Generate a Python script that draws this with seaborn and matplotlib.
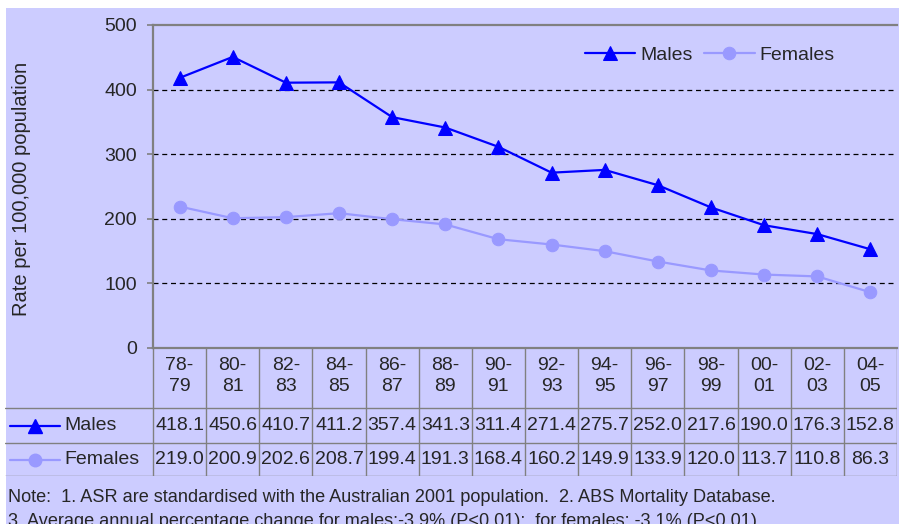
import numpy as np
import pandas as pd
import matplotlib.pyplot as plt
import seaborn as sns
from matplotlib.patches import Rectangle

# datos
periods = ['78-\n79', '80-\n81', '82-\n83', '84-\n85', '86-\n87', '88-\n89', '90-\n91',
           '92-\n93', '94-\n95', '96-\n97', '98-\n99', '00-\n01', '02-\n03', '04-\n05']
males = [418.1, 450.6, 410.7, 411.2, 357.4, 341.3, 311.4, 271.4, 275.7, 252.0, 217.6, 190.0, 176.3, 152.8]
females = [219.0, 200.9, 202.6, 208.7, 199.4, 191.3, 168.4, 160.2, 149.9, 133.9, 120.0, 113.7, 110.8, 86.3]
yticks = [0, 100, 200, 300, 400, 500]
note1 = 'Note:  1. ASR are standardised with the Australian 2001 population.  2. ABS Mortality Database.'
note2 = '3. Average annual percentage change for males:-3.9% (P<0.01);  for females: -3.1% (P<0.01)'

bg = '#CCCCFF'
c_m = '#0000FF'
c_f = '#9999FF'
grey = '#808080'

sns.set_style('white')
plt.rcParams['font.family'] = ['Liberation Sans', 'DejaVu Sans']

W, H = 899, 524
fig = plt.figure(figsize=(W / 100, H / 100), dpi=100, facecolor='white')
fig.patches.append(Rectangle((6 / W, 0), 1 - 6 / W, 1 - 8 / H, transform=fig.transFigure,
                             facecolor=bg, edgecolor='none', zorder=-10))

# grafico principal
ax = fig.add_axes([153 / W, 1 - 348 / H, 744 / W, 323 / H])
ax.set_facecolor(bg)
x = np.arange(len(periods))
df = pd.DataFrame({'x': x, 'Males': males, 'Females': females})
sns.lineplot(data=df, x='x', y='Males', ax=ax, color=c_m, marker='^', markersize=10,
             markeredgecolor=c_m, linewidth=1.6, label='Males')
sns.lineplot(data=df, x='x', y='Females', ax=ax, color=c_f, marker='o', markersize=9,
             markeredgecolor=c_f, linewidth=1.6, label='Females')
for v in yticks[1:-1]:
    ax.axhline(v, color='black', linestyle=(0, (4, 3)), linewidth=0.9, zorder=0.5)
ax.set_xlim(-0.5, len(periods) - 0.5)
ax.set_ylim(0, 500)
ax.set_yticks(yticks)
ax.set_xticks([])
ax.set_xlabel('')
ax.set_ylabel('')
ax.tick_params(axis='y', labelsize=14, length=4.5, width=1.2, color=grey, pad=7, left=True)
for s in ['left', 'bottom', 'top']:
    ax.spines[s].set_color(grey)
    ax.spines[s].set_linewidth(1.6)
ax.spines['right'].set_visible(False)
ax.legend(loc='center', bbox_to_anchor=(0.748, 0.907), ncol=2, frameon=False, fontsize=14,
          handlelength=2.6, handletextpad=0.25, columnspacing=0.6, borderpad=0)
fig.text(22 / W, 1 - 189 / H, 'Rate per 100,000 population', rotation=90,
         ha='center', va='center', fontsize=14.5)

# tabla de datos
colw = 744 / len(periods)
tab = fig.add_axes([5 / W, 1 - 476 / H, 892 / W, 128 / H])
xmin = -0.5 - 148 / colw
tab.set_xlim(xmin, len(periods) - 0.5)
tab.set_ylim(128, 0)
tab.axis('off')
for k in range(len(periods) + 1):
    tab.plot([k - 0.5, k - 0.5], [0, 128], color=grey, linewidth=1)
for yy in [60, 95, 127.5]:
    tab.plot([xmin, len(periods) - 0.5], [yy, yy], color=grey, linewidth=1)
for i, p in enumerate(periods):
    tab.text(i, 28, p, ha='center', va='center', fontsize=14, linespacing=1.35)
    tab.text(i, 78, f'{males[i]:.1f}', ha='center', va='center', fontsize=14)
    tab.text(i, 112, f'{females[i]:.1f}', ha='center', va='center', fontsize=14)


def px(p):
    return xmin + (p - 5) / colw


for yy, col, mk, ms, name in [(78, c_m, '^', 10, 'Males'), (112, c_f, 'o', 9, 'Females')]:
    tab.plot([px(10), px(60)], [yy, yy], color=col, linewidth=1.6)
    tab.plot([px(35)], [yy], color=col, marker=mk, markersize=ms, markeredgecolor=col)
    tab.text(px(64), yy, name, ha='left', va='center', fontsize=14)

fig.text(8 / W, 1 - 502 / H, note1, fontsize=13.1, va='baseline')
fig.text(8 / W, 1 - 526 / H, note2, fontsize=13.1, va='baseline')

plt.savefig('out.png', dpi=100, facecolor=fig.get_facecolor())
